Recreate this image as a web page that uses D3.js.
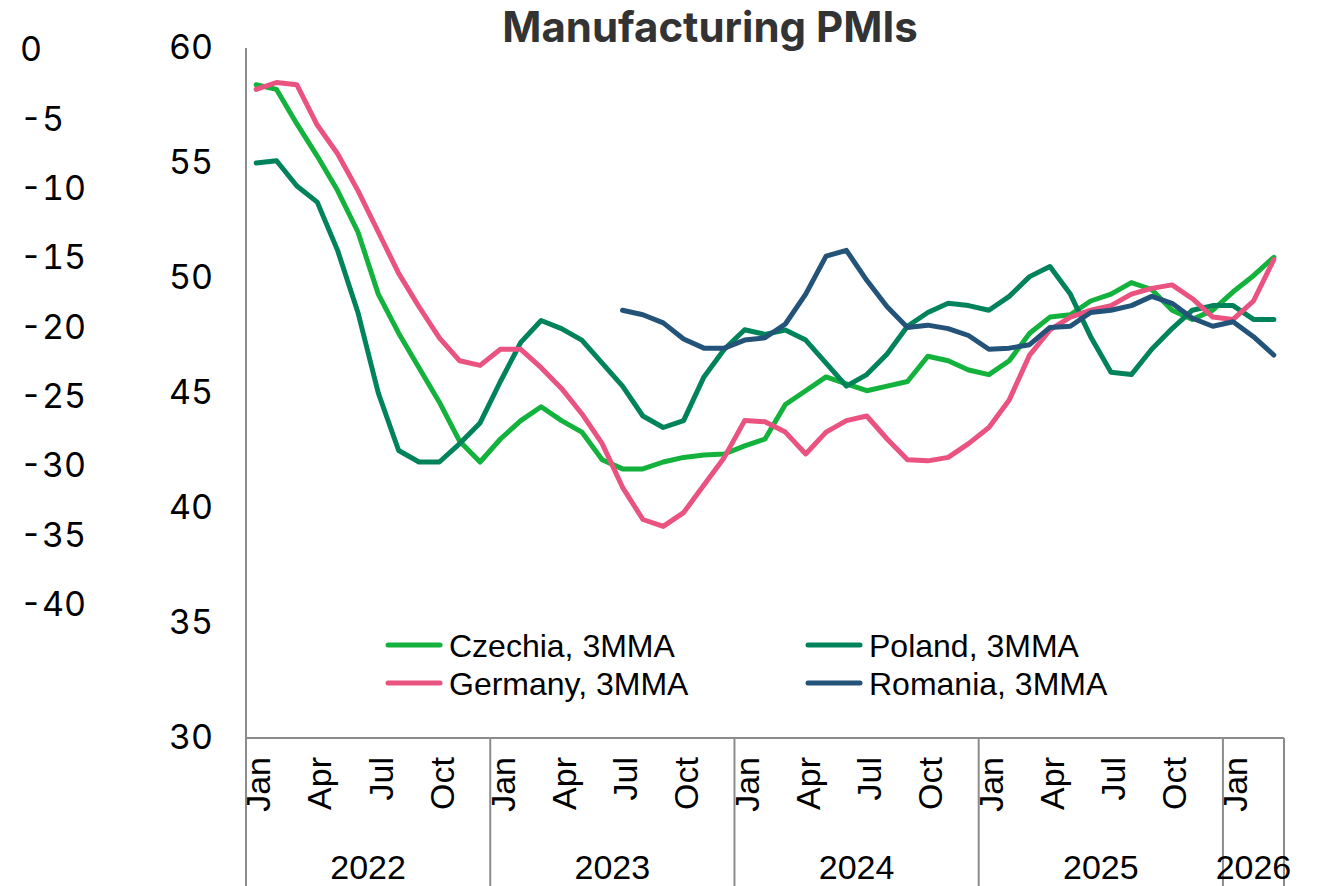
<!DOCTYPE html>
<html>
<head>
<meta charset="utf-8">
<script src="https://cdn.jsdelivr.net/npm/d3@7"></script>
<style>
  body { margin: 0; background: #fff; }
  svg { display: block; }
</style>
</head>
<body>
<div id="chart"></div>
<script>
// categories: Jan 2022 .. Mar 2026
var years = [2022, 2023, 2024, 2025, 2026];
var monthNames = ["Jan","Feb","Mar","Apr","May","Jun","Jul","Aug","Sep","Oct","Nov","Dec"];
var months = [];
years.forEach(function(y) {
  var n = y === 2026 ? 3 : 12;
  for (var m = 0; m < n; m++) months.push({year: y, m: m, key: y + "-" + (m + 1)});
});

// series values (3MMA)
var czechia = [58.4, 58.2, 56.7, 55.3, 53.8, 52.0, 49.3, 47.6, 46.1, 44.6, 42.9, 42.0,
  43.0, 43.8, 44.4, 43.8, 43.3, 42.1, 41.7, 41.7, 42.0, 42.2, 42.3, 42.35,
  42.7, 43.0, 44.5, 45.1, 45.7, 45.4, 45.1, 45.3, 45.5, 46.6, 46.4, 46.0,
  45.8, 46.4, 47.6, 48.3, 48.4, 49.0, 49.3, 49.8, 49.5, 48.6, 48.2, 48.6,
  49.4, 50.1, 50.9];
var poland = [55.0, 55.1, 54.0, 53.3, 51.2, 48.5, 45.0, 42.5, 42.0, 42.0, 42.8, 43.7,
  45.5, 47.2, 48.15, 47.8, 47.3, 46.3, 45.3, 44.0, 43.5, 43.8, 45.7, 46.9,
  47.75, 47.55, 47.74, 47.3, 46.3, 45.3, 45.8, 46.7, 47.9, 48.5, 48.9, 48.8,
  48.6, 49.2, 50.06, 50.5, 49.3, 47.45, 45.9, 45.8, 46.9, 47.8, 48.6, 48.8,
  48.8, 48.2, 48.2];
var germany = [58.2, 58.5, 58.4, 56.65, 55.4, 53.8, 52.0, 50.2, 48.75, 47.4, 46.4, 46.2,
  46.9, 46.9, 46.1, 45.2, 44.1, 42.8, 40.9, 39.5, 39.2, 39.8, 41.0, 42.2,
  43.8, 43.75, 43.3, 42.35, 43.3, 43.8, 44.0, 43.0, 42.1, 42.05, 42.2, 42.8,
  43.5, 44.7, 46.65, 47.74, 48.3, 48.6, 48.8, 49.3, 49.55, 49.7, 49.1, 48.3,
  48.2, 49.0, 50.8];
var romania = [null, null, null, null, null, null, null, null, null, null, null, null,
  null, null, null, null, null, null, 48.6, 48.4, 48.05, 47.35, 46.95, 46.95,
  47.3, 47.4, 48.0, 49.3, 50.95, 51.2, 49.9, 48.75, 47.85, 47.95, 47.8, 47.5,
  46.9, 46.95, 47.1, 47.85, 47.9, 48.5, 48.6, 48.8, 49.2, 48.9, 48.25, 47.9,
  48.1, 47.45, 46.65];

var seriesNames = ["Czechia, 3MMA", "Poland, 3MMA", "Germany, 3MMA", "Romania, 3MMA"];
var seriesColors = ["#13b23d", "#00835b", "#ea5280", "#24537a"];
var seriesValues = [czechia, poland, germany, romania];

var yTicks = [30, 35, 40, 45, 50, 55, 60];
var y2Ticks = [0, -5, -10, -15, -20, -25, -30, -35, -40];
var monthTickIdx = [0, 3, 6, 9];

var W = 1319, H = 886;
var svg = d3.select("#chart").append("svg")
  .attr("width", W).attr("height", H);

// scales
var x = d3.scaleBand()
  .domain(months.map(function(d) { return d.key; }))
  .range([246, 1284])
  .padding(0);
var y = d3.scaleLinear().domain([30, 60]).range([738, 48]);
var y2 = d3.scaleLinear().domain([0, -40]).range([49, 604]);

var axisColor = "#8c8c8c";
var xc = function(i) { return x(months[i].key) + x.bandwidth() / 2; };

// title
svg.append("text")
  .attr("x", 710).attr("y", 42)
  .attr("text-anchor", "middle")
  .style("font-family", "Inter, 'Noto Sans', sans-serif")
  .style("font-weight", "700")
  .style("font-size", "42px")
  .style("fill", "#333")
  .text("Manufacturing PMIs");

// secondary (left) axis labels only
svg.append("g").selectAll("text")
  .data(y2Ticks).enter().append("text")
  .attr("x", 20)
  .attr("y", function(d) { return y2(d); })
  .attr("dy", "0.36em")
  .style("font-family", "Inter, 'Noto Sans', sans-serif")
  .style("font-size", "34px")
  .style("font-variant-numeric", "tabular-nums")
  .style("fill", "#000")
  .text(function(d) { return d; });

// primary y axis
var yAxis = d3.axisLeft(y).tickValues(yTicks).tickSize(0).tickPadding(33);
var gy = svg.append("g").attr("transform", "translate(246,0)").call(yAxis);
gy.select(".domain").remove();
gy.selectAll("text")
  .style("font-family", "Inter, 'Noto Sans', sans-serif")
  .style("font-size", "34px")
  .style("font-variant-numeric", "tabular-nums")
  .style("fill", "#000");
svg.append("line")
  .attr("x1", 246).attr("x2", 246).attr("y1", 48).attr("y2", H)
  .style("stroke", axisColor).style("stroke-width", 2);

// x axis baseline
svg.append("line")
  .attr("x1", 246).attr("x2", 1284).attr("y1", y(30)).attr("y2", y(30))
  .style("stroke", axisColor).style("stroke-width", 2);

// year separators
var yearStarts = years.map(function(yr) {
  return x(months.find(function(d) { return d.year === yr; }).key);
});
svg.append("g").selectAll("line")
  .data(yearStarts.slice(1).concat([1284])).enter().append("line")
  .attr("x1", function(d) { return d; }).attr("x2", function(d) { return d; })
  .attr("y1", y(30)).attr("y2", H)
  .style("stroke", axisColor).style("stroke-width", 2);

// month labels
svg.append("g").selectAll("text")
  .data(months.filter(function(d) { return monthTickIdx.indexOf(d.m) >= 0; }))
  .enter().append("text")
  .attr("transform", function(d) {
    return "translate(" + (x(d.key) + x.bandwidth() / 2 + 2) + ",757) rotate(-90)";
  })
  .attr("text-anchor", "end")
  .attr("dy", "0.36em")
  .style("font-family", "'Liberation Sans', Arial, sans-serif")
  .style("font-size", "34px")
  .style("fill", "#000")
  .text(function(d) { return monthNames[d.m]; });

// year labels
var yearEnds = yearStarts.slice(1).concat([1284]);
svg.append("g").selectAll("text")
  .data(years).enter().append("text")
  .attr("x", function(d, i) { return (yearStarts[i] + yearEnds[i]) / 2; })
  .attr("y", 879)
  .attr("text-anchor", "middle")
  .style("font-family", "'Liberation Sans', Arial, sans-serif")
  .style("font-size", "34px")
  .style("fill", "#000")
  .text(function(d) { return d; });

// lines
var line = d3.line()
  .defined(function(d) { return d != null; })
  .x(function(d, i) { return xc(i); })
  .y(function(d) { return y(d); });

svg.append("g").selectAll("path")
  .data(seriesValues).enter().append("path")
  .attr("d", function(d) { return line(d); })
  .style("fill", "none")
  .style("stroke", function(d, i) { return seriesColors[i]; })
  .style("stroke-width", 5)
  .style("stroke-linejoin", "round")
  .style("stroke-linecap", "round");

// legend
var legendPos = [[388, 645], [808, 645], [388, 683], [808, 683]];
var lg = svg.append("g").selectAll("g")
  .data(seriesNames).enter().append("g")
  .attr("transform", function(d, i) { return "translate(" + legendPos[i][0] + "," + legendPos[i][1] + ")"; });
lg.append("line")
  .attr("x1", 0).attr("x2", 52).attr("y1", 0).attr("y2", 0)
  .style("stroke", function(d, i) { return seriesColors[i]; })
  .style("stroke-width", 5)
  .style("stroke-linecap", "round");
lg.append("text")
  .attr("x", 61).attr("dy", "0.36em")
  .style("font-family", "'Liberation Sans', Arial, sans-serif")
  .style("font-size", "32px")
  .style("fill", "#000")
  .text(function(d) { return d; });
</script>
</body>
</html>
